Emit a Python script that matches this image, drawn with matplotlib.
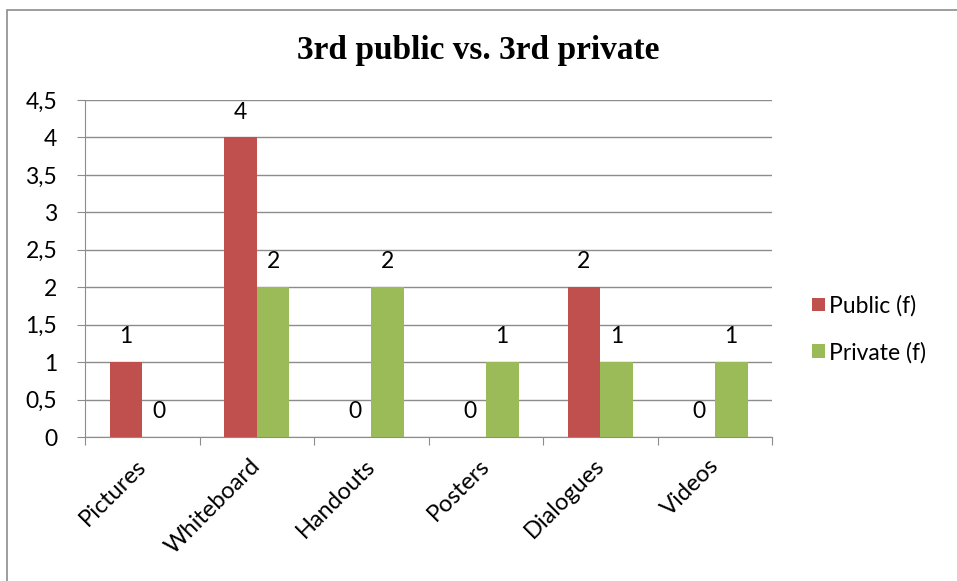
import numpy as np
import matplotlib.pyplot as plt
from matplotlib.patches import Rectangle

categories = ["Pictures", "Whiteboard", "Handouts", "Posters", "Dialogues", "Videos"]
public_f = [1, 4, 0, 0, 2, 0]
private_f = [0, 2, 2, 1, 1, 1]
y_ticks = [0, 0.5, 1, 1.5, 2, 2.5, 3, 3.5, 4, 4.5]

RED = "#C0504D"
GREEN = "#9BBB59"
LABEL_FONT = ["Lato", "DejaVu Sans"]
FS = 16.5

fig = plt.figure(figsize=(9.57, 5.81), dpi=100)
fig.patches.append(Rectangle((7 / 957, -0.01), 1.0, 1 - 10 / 581 + 0.01,
                             transform=fig.transFigure, fill=False,
                             edgecolor="#8c8c8c", linewidth=1.2))

ax = fig.add_axes([0.0888, 0.2478, 0.718, 0.580])

x = np.arange(len(categories))
width = 1 / 3.5
bars_pub = ax.bar(x - width / 2, public_f, width, color=RED, label="Public (f)", zorder=3)
bars_pri = ax.bar(x + width / 2, private_f, width, color=GREEN, label="Private (f)", zorder=3)

# value labels sit a little above each bar (zero bars included)
for bars, vals in ((bars_pub, public_f), (bars_pri, private_f)):
    for b, v in zip(bars, vals):
        ax.text(b.get_x() + b.get_width() / 2, v + 0.2, str(v), ha="center",
                va="bottom", fontsize=FS, family=LABEL_FONT)

ax.set_xlim(-0.5, len(categories) - 0.5)
ax.set_ylim(0, 4.5)
ax.set_yticks(y_ticks)
ax.set_yticklabels([f"{t:g}".replace(".", ",") for t in y_ticks],
                   fontsize=FS, family=LABEL_FONT)
ax.yaxis.grid(True, color="#8c8c8c", linewidth=1, zorder=0)

# tick marks on the category boundaries, names under each category
ax.set_xticks(np.arange(len(categories) + 1) - 0.5)
ax.set_xticklabels([])
for xi, name in zip(x, categories):
    ax.annotate(name, xy=(xi, 0), xycoords=("data", "axes fraction"),
                xytext=(-5, -13), textcoords="offset points",
                rotation=45, ha="right", va="top", rotation_mode="anchor",
                fontsize=17, family=LABEL_FONT)
ax.tick_params(axis="x", length=6, color="#8c8c8c", direction="out")
ax.tick_params(axis="y", length=6, color="#8c8c8c", pad=14)

for side in ("top", "right"):
    ax.spines[side].set_visible(False)
for side in ("left", "bottom"):
    ax.spines[side].set_color("#8c8c8c")

fig.text(0.5, 1 - 50 / 581, "3rd public vs. 3rd private", ha="center", va="center",
         fontsize=24, fontweight="bold", family="Liberation Serif")

ax.legend(loc="center left", bbox_to_anchor=(1.028, 0.32), frameon=False,
          prop={"family": LABEL_FONT, "size": FS}, handlelength=0.55,
          handleheight=0.55, handletextpad=0.2, labelspacing=1.1)

fig.savefig("out.png", dpi=100)
